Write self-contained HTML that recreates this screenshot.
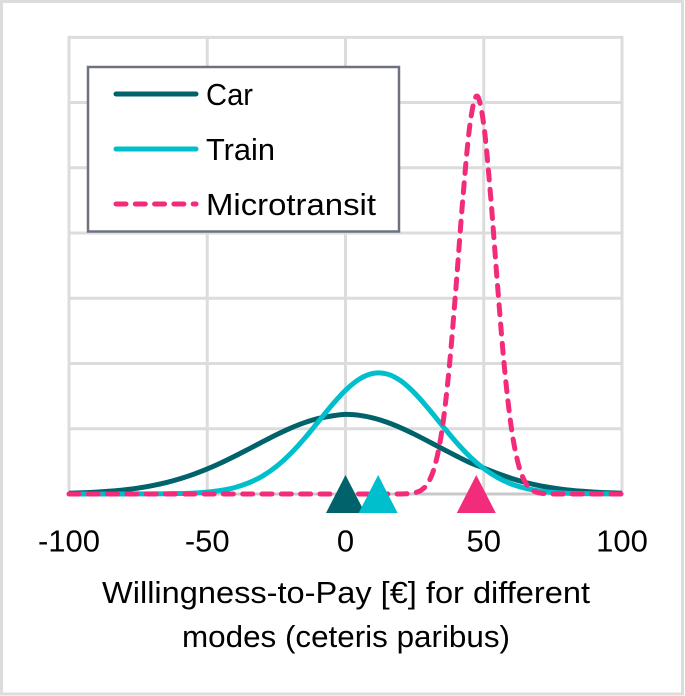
<!DOCTYPE html>
<html>
<head>
<meta charset="utf-8">
<style>
html,body{margin:0;padding:0;background:#fff;}
svg{display:block;}
text{font-family:"Liberation Sans",Arial,sans-serif;fill:#000;}
</style>
</head>
<body>
<svg id="chart" width="685" height="696" viewBox="0 0 685 696" xmlns="http://www.w3.org/2000/svg">
  <rect x="1.5" y="1.5" width="681" height="692.5" fill="#fff" stroke="#dcdcdc" stroke-width="3"/>
  <g id="grid"></g>
  <g id="series"></g>
  <g id="markers"></g>
  <g id="xticks"></g>
  <text x="346" y="603" font-size="31" text-anchor="middle" textLength="488" lengthAdjust="spacingAndGlyphs">Willingness-to-Pay [€] for different</text>
  <text x="346" y="647" font-size="31" text-anchor="middle" textLength="328" lengthAdjust="spacingAndGlyphs">modes (ceteris paribus)</text>
  <g>
    <rect x="88" y="67" width="311" height="164.5" fill="#fff" stroke="#6e7280" stroke-width="2.5"/>
    <line x1="116" y1="94" x2="196" y2="94" stroke="#00626a" stroke-width="5" stroke-linecap="round"/>
    <text x="206" y="105" font-size="31" textLength="47" lengthAdjust="spacingAndGlyphs">Car</text>
    <line x1="116" y1="149" x2="196" y2="149" stroke="#00bfcc" stroke-width="5" stroke-linecap="round"/>
    <text x="206" y="160" font-size="31" textLength="69" lengthAdjust="spacingAndGlyphs">Train</text>
    <line x1="116" y1="204" x2="196" y2="204" stroke="#f22c7a" stroke-width="5" stroke-linecap="round" stroke-dasharray="10 9.3"/>
    <text x="206" y="215" font-size="31" textLength="170" lengthAdjust="spacingAndGlyphs">Microtransit</text>
  </g>
</svg>
<script>
const xTickValues = [-100, -50, 0, 50, 100];
const yTickValues = [0, 0.01, 0.02, 0.03, 0.04, 0.05, 0.06, 0.07];

const carTrainX = [-100,-95,-90,-85,-80,-75,-70,-65,-60,-55,-50,-45,-40,-35,-30,-25,-20,-15,-10,-5,0,5,10,15,20,25,30,35,40,45,50,55,60,65,70,75,80,85,90,95,100];
const carValues = [0.00012,0.00019,0.00029,0.00044,0.00064,0.00091,0.00128,0.00174,0.00232,0.00302,0.00384,0.00477,0.0058,0.00689,0.008,0.00908,0.01007,0.01091,0.01156,0.01196,0.0122,0.01206,0.01165,0.011,0.01015,0.00915,0.00806,0.00694,0.00585,0.00481,0.00398,0.00315,0.0024,0.00178,0.00129,0.00092,0.00064,0.00044,0.00029,0.00019,0.00012];
const trainValues = [0,0,0,0,0,0.00001,0.00002,0.00004,0.00007,0.00014,0.00029,0.00056,0.001,0.00171,0.00275,0.00422,0.00613,0.00843,0.011,0.01359,0.0159,0.01761,0.01849,0.01839,0.01734,0.01547,0.01308,0.01049,0.00796,0.00572,0.0039,0.00252,0.00153,0.00089,0.00049,0.00025,0.00012,0.00006,0.00003,0.00001,0];
const microX = [-100,-50,0,15,20,22.5,25,27.5,30,32.5,35,37.5,40,42.5,45,47.5,50,52.5,55,57.5,60,62.5,65,67.5,70,72.5,75,100];
const microValues = [0,0,0,0,0,0.00005,0.00018,0.00062,0.0018,0.0046,0.0101,0.0193,0.0319,0.0456,0.0566,0.061,0.0566,0.0456,0.0319,0.0193,0.0101,0.0046,0.0018,0.00062,0.00018,0.00005,0,0];
const meanCar = 0;
const meanTrain = 11.8;
const meanMicro = 47.3;

const NS = 'http://www.w3.org/2000/svg';
function xScale(v){ return 345.5 + v * 2.765; }
function yScale(v){ return 494 - v * 6524; }
function make(tag, attrs, parent){
  const el = document.createElementNS(NS, tag);
  for (const k in attrs) el.setAttribute(k, attrs[k]);
  parent.appendChild(el);
  return el;
}
function curvePath(xs, ys){
  const px = xs.map(xScale), py = ys.map(yScale), n = px.length;
  const m = px.map(function(_, i){
    const a = Math.max(i - 1, 0), b = Math.min(i + 1, n - 1);
    return (py[b] - py[a]) / (px[b] - px[a]);
  });
  let d = 'M' + px[0].toFixed(2) + ' ' + py[0].toFixed(2);
  for (let i = 0; i < n - 1; i++) {
    const h = (px[i + 1] - px[i]) / 3;
    d += 'C' + (px[i] + h).toFixed(2) + ' ' + (py[i] + m[i] * h).toFixed(2) + ' ' +
         (px[i + 1] - h).toFixed(2) + ' ' + (py[i + 1] - m[i + 1] * h).toFixed(2) + ' ' +
         px[i + 1].toFixed(2) + ' ' + py[i + 1].toFixed(2);
  }
  return d;
}

const grid = document.getElementById('grid');
xTickValues.forEach(function(v){
  const gl = make('line', {x1: xScale(v), x2: xScale(v), y1: yScale(0.07) - 1.5, y2: yScale(0), stroke: '#dcdcdc', 'stroke-width': 3}, grid);
  
  
});
yTickValues.forEach(function(v){
  const gl = make('line', {x1: xScale(-100), x2: xScale(100), y1: yScale(v), y2: yScale(v), stroke: v === 0 ? '#c8c8c8' : '#dcdcdc', 'stroke-width': 3}, grid);
  
  
});

const series = document.getElementById('series');
const carPath = make('path', {d: curvePath(carTrainX, carValues), fill: 'none', stroke: '#00626a', 'stroke-width': 5}, series);


const trainPath = make('path', {d: curvePath(carTrainX, trainValues), fill: 'none', stroke: '#00bfcc', 'stroke-width': 5}, series);


const microPath = make('path', {d: curvePath(microX, microValues), fill: 'none', stroke: '#f22c7a', 'stroke-width': 5, 'stroke-linecap': 'round', 'stroke-dasharray': '10 9.3'}, series);



const markers = document.getElementById('markers');
function triangle(mean, color){
  const c = xScale(mean);
  return make('polygon', {points: (c - 19.5) + ',513 ' + c + ',475 ' + (c + 19.5) + ',513', fill: color}, markers);
}
const carMarker = triangle(meanCar, '#00626a');


const trainMarker = triangle(meanTrain, '#00bfcc');


const microMarker = triangle(meanMicro, '#f22c7a');



const xticks = document.getElementById('xticks');
xTickValues.forEach(function(v){
  const t = make('text', {x: xScale(v), y: 551.5, 'font-size': 31, 'text-anchor': 'middle'}, xticks);
  
  
  t.textContent = String(v);
});
</script>
</body>
</html>
